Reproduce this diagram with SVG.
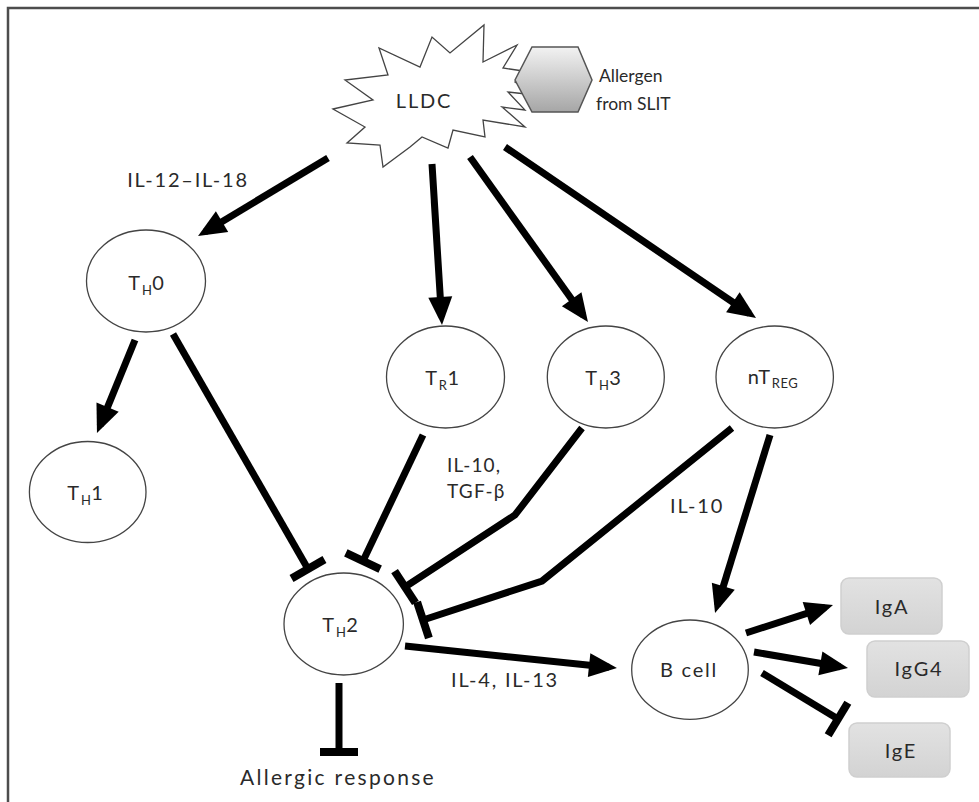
<svg xmlns="http://www.w3.org/2000/svg" width="979" height="802" viewBox="0 0 979 802">
<defs>
<style>
.node{fill:#fff;stroke:#444;stroke-width:1.3}
.lbl{font-family:Lato,"Liberation Sans",sans-serif;font-size:20px;fill:#2a2a2a;letter-spacing:1.8px}
.sub{font-size:13px;letter-spacing:0.5px}
.small{font-size:17.5px;letter-spacing:0px}
.conn{fill:none;stroke:#000;stroke-width:7;stroke-linejoin:miter}
.arr{marker-end:url(#arrow)}
.tee{marker-end:url(#tee)}
.box{fill:url(#boxg);stroke:#cfcfcf;stroke-width:1.5}
</style>
<linearGradient id="hexg" x1="0" y1="0" x2="0" y2="1">
<stop offset="0" stop-color="#f2f2f2"/>
<stop offset="1" stop-color="#a6a6a6"/>
</linearGradient>
<linearGradient id="boxg" x1="0" y1="0" x2="0" y2="1">
<stop offset="0" stop-color="#e2e2e2"/>
<stop offset="1" stop-color="#d3d3d3"/>
</linearGradient>
<marker id="arrow" markerUnits="userSpaceOnUse" markerWidth="28" markerHeight="24" refX="20" refY="12" orient="auto" overflow="visible">
<path d="M0,0 L28,12 L0,24 z" fill="#000"/>
</marker>
<marker id="tee" markerUnits="userSpaceOnUse" markerWidth="8" markerHeight="40" refX="4" refY="20" orient="auto" overflow="visible">
<rect x="0" y="1" width="8" height="38" fill="#000"/>
</marker>
</defs>
<rect x="0" y="0" width="979" height="802" fill="#fff"/>
<rect x="8" y="8" width="1000" height="820" fill="none" stroke="#4d4d4d" stroke-width="2.5"/>

<g id="connectors">
<line class="conn arr" x1="328" y1="158" x2="204.9" y2="231.9"/>
<line class="conn arr" x1="432" y1="164" x2="441.5" y2="317"/>
<line class="conn arr" x1="470" y1="157" x2="583.3" y2="315.5"/>
<line class="conn arr" x1="505" y1="147" x2="749.4" y2="313.5"/>
<line class="conn arr" x1="135" y1="340" x2="100" y2="425.6"/>
<line class="conn tee" x1="173" y1="334" x2="308" y2="569"/>
<line class="conn tee" x1="423" y1="435" x2="363" y2="561"/>
<polyline class="conn tee" points="582,428 515,515 405,587"/>
<polyline class="conn tee" points="732,428 542,581 423,620"/>
<line class="conn tee" x1="339" y1="683" x2="339" y2="752"/>
<line class="conn arr" x1="405" y1="646" x2="609" y2="667.2"/>
<line class="conn arr" x1="770" y1="435" x2="717.4" y2="605.4"/>
<line class="conn arr" x1="746" y1="633" x2="825.4" y2="607.4"/>
<line class="conn arr" x1="754" y1="652" x2="840.1" y2="666.7"/>
<line class="conn tee" x1="762" y1="673" x2="838" y2="719"/>
</g>

<g id="LLDC">
<polygon class="node" stroke="#333" stroke-width="1.5" points="333,109 373,100 345,80 388,75 379,48 420,67 432,37 450,53 484,25 483,62 517,45 503,68 530,72 515,82 535,95 508,92 525,110 502,107 525,127 483,120 485,137 453,130 448,148 422,137 410,147 383,167 380,145 347,143 365,127"/>
<text class="lbl" x="424" y="108" text-anchor="middle">LLDC</text>
</g>

<g id="allergen">
<polygon points="515,80 532,47 578,47 592,80 578,112 532,112" fill="url(#hexg)" stroke="#555" stroke-width="1.5"/>
<text class="lbl small" x="599" y="82">Allergen</text>
<text class="lbl small" x="596" y="110">from SLIT</text>
</g>

<g id="IL12">
<text class="lbl" x="188" y="187" text-anchor="middle">IL-12–IL-18</text>
</g>

<g id="TH0">
<ellipse class="node" cx="146" cy="281" rx="59.5" ry="51"/>
<text class="lbl" x="147" y="290" text-anchor="middle">T<tspan class="sub" dy="5">H</tspan><tspan dy="-5">0</tspan></text>
</g>

<g id="TH1">
<ellipse class="node" cx="87.7" cy="492" rx="58.3" ry="50.5"/>
<text class="lbl" x="86" y="500" text-anchor="middle">T<tspan class="sub" dy="5">H</tspan><tspan dy="-5">1</tspan></text>
</g>

<g id="TR1">
<ellipse class="node" cx="445.5" cy="377" rx="59" ry="51"/>
<text class="lbl" x="443" y="385" text-anchor="middle">T<tspan class="sub" dy="5">R</tspan><tspan dy="-5">1</tspan></text>
</g>

<g id="TH3">
<ellipse class="node" cx="605.8" cy="377" rx="58.5" ry="51"/>
<text class="lbl" x="604" y="385" text-anchor="middle">T<tspan class="sub" dy="5">H</tspan><tspan dy="-5">3</tspan></text>
</g>

<g id="nTREG">
<ellipse class="node" cx="774.7" cy="377" rx="58.7" ry="51"/>
<text class="lbl" x="773" y="384" text-anchor="middle">nT<tspan class="sub" dy="4">REG</tspan></text>
</g>

<g id="TH2">
<ellipse class="node" cx="343.7" cy="624" rx="59.7" ry="51"/>
<text class="lbl" x="341" y="632" text-anchor="middle">T<tspan class="sub" dy="5">H</tspan><tspan dy="-5">2</tspan></text>
</g>

<g id="Bcell">
<ellipse class="node" cx="690" cy="669.7" rx="58.3" ry="49.7"/>
<text class="lbl" x="689" y="677" text-anchor="middle">B cell</text>
</g>

<g id="IgA">
<rect class="box" x="841" y="578" width="101" height="56" rx="8"/>
<text class="lbl" x="892" y="614" text-anchor="middle">IgA</text>
</g>
<g id="IgG4">
<rect class="box" x="867" y="641" width="102" height="56" rx="8"/>
<text class="lbl" x="919" y="676" text-anchor="middle">IgG4</text>
</g>
<g id="IgE">
<rect class="box" x="849" y="723" width="101" height="54" rx="8"/>
<text class="lbl" x="901" y="758" text-anchor="middle">IgE</text>
</g>

<g id="labels">
<text class="lbl" x="447" y="472" style="font-size:19px;letter-spacing:1.2px">IL-10,</text>
<text class="lbl" x="447" y="498" style="font-size:19px;letter-spacing:1.2px">TGF-β</text>
<text class="lbl" x="670" y="513">IL-10</text>
<text class="lbl" x="505" y="687" text-anchor="middle">IL-4, IL-13</text>
<text class="lbl" x="338" y="785" text-anchor="middle" style="font-size:21px;letter-spacing:2.3px">Allergic response</text>
</g>
</svg>
